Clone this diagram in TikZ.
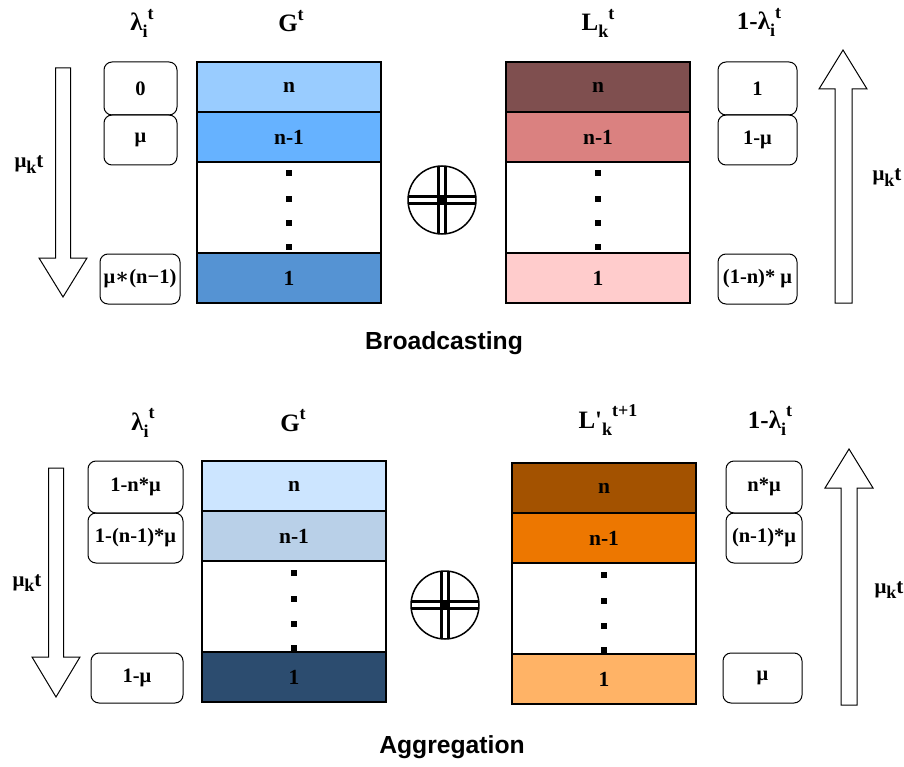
\documentclass[tikz,border=0pt]{standalone}
\usepackage{fontspec}
\setmainfont{Liberation Serif}
\newfontfamily\headfont{Liberation Sans}
\newfontfamily\symfont{DejaVu Serif}
\usepackage{tikz}
\usetikzlibrary{positioning}
\definecolor{gsky}{HTML}{99CCFF}
\definecolor{gazure}{HTML}{66B2FF}
\definecolor{gcobalt}{HTML}{5593D3}
\definecolor{gice}{HTML}{CCE5FF}
\definecolor{gsteel}{HTML}{B9D0E8}
\definecolor{gnavy}{HTML}{2C4C6F}
\definecolor{lmaroon}{HTML}{7F4F4F}
\definecolor{lrose}{HTML}{DA8180}
\definecolor{lblush}{HTML}{FFCCCC}
\definecolor{lrust}{HTML}{A35200}
\definecolor{lamber}{HTML}{ED7700}
\definecolor{lpeach}{HTML}{FFB366}
\newcommand{\sps}[1]{\raisebox{0.45em}{\fontsize{18}{18}\selectfont #1}}
\newcommand{\sbs}[1]{\raisebox{-0.28em}{\fontsize{18}{18}\selectfont #1}}
\begin{document}
\begin{tikzpicture}[
  x=1pt, y=-1pt,
  cell/.style={draw=black, line width=1.2pt, minimum width=184pt,
               minimum height=50pt, inner sep=0pt, outer sep=0pt,
               font=\fontsize{21.5}{25}\selectfont\bfseries},
  val/.style={draw=black, line width=1pt, rounded corners=8pt,
              minimum height=50pt, inner sep=0pt, outer sep=0pt,
              font=\fontsize{20.5}{24}\selectfont\bfseries},
  lbl/.style={font=\fontsize{25}{29}\selectfont\bfseries, inner sep=0pt,
              anchor=base},
  rate/.style={font=\fontsize{21}{25}\selectfont\bfseries, inner sep=0pt,
               anchor=base},
  ttl/.style={font=\headfont\fontsize{24.7}{29}\selectfont\bfseries,
              inner sep=0pt, anchor=base},
  blk/.style={draw=black, line width=1pt, fill=white},
  xor/.style={circle, draw=black, line width=1.5pt, minimum size=68pt,
              inner sep=0pt, outer sep=0pt},
  bar/.style={line width=2.7pt}]
  \useasboundingbox (0,0) rectangle (904,767);
  % broadcasting
  \node[lbl] (tlam) at (142,31) {λ\sbs{i}\sps{t}};
  \node[lbl] (tgl) at (291,32) {G\sps{t}};
  \node[lbl] (tll) at (598,31) {L\sbs{k}\sps{t}};
  \node[lbl] (tnlam) at (759,30) {1-λ\sbs{i}\sps{t}};
  \node[rate] (tmul) at (29,168) {μ\sbs{k}t};
  \node[rate] (tmur) at (887,181) {μ\sbs{k}t};
  \draw[blk] (55.5,68) -- (70.5,68) -- (70.5,258) -- (87,258) -- (63,297)
    -- (39,258) -- (55.5,258) -- cycle;
  \draw[blk] (835,303) -- (852,303) -- (852,89) -- (867,89) -- (843,50)
    -- (819,89) -- (835,89) -- cycle;
  \node[val, minimum width=73pt, minimum height=53pt] (tv0) at (140.5,88.5) {0};
  \node[val, minimum width=73pt, below=0pt of tv0] (tv1) {μ};
  \node[val, minimum width=80pt] (tv2) at (140,279) {μ{\symfont∗}(n−1)};
  \node[val, minimum width=79pt, minimum height=53pt] (tw0) at (757.5,88.5) {1};
  \node[val, minimum width=79pt, below=0pt of tw0] (tw1) {1-μ};
  \node[val, minimum width=79pt] (tw2) at (757.5,279) {(1-n)* μ};
  \node[cell, fill=gsky, anchor=north] (tg0) at (289,62) {n};
  \node[cell, fill=gazure, below=0pt of tg0] (tg1) {n-1};
  \node[cell, fill=white, minimum height=91pt, below=0pt of tg1] (tg2) {};
  \node[cell, fill=gcobalt, below=0pt of tg2] (tg3) {1};
  \node[cell, fill=lmaroon, anchor=north] (tl0) at (598,62) {n};
  \node[cell, fill=lrose, below=0pt of tl0] (tl1) {n-1};
  \node[cell, fill=white, minimum height=91pt, below=0pt of tl1] (tl2) {};
  \node[cell, fill=lblush, below=0pt of tl2] (tl3) {1};
  \foreach \d in {11,37,61,85} {
    \fill ([yshift=-\d pt]tg2.north) +(-3,-3) rectangle +(3,3);
    \fill ([yshift=-\d pt]tl2.north) +(-3,-3) rectangle +(3,3);
  }
  \node[xor] (txo) at (442,200) {};
  \draw[bar] ([xshift=-3.3pt]txo.north) -- ([xshift=-3.3pt]txo.south);
  \draw[bar] ([xshift=3.3pt]txo.north) -- ([xshift=3.3pt]txo.south);
  \draw[bar] ([yshift=-3.3pt]txo.west) -- ([yshift=-3.3pt]txo.east);
  \draw[bar] ([yshift=3.3pt]txo.west) -- ([yshift=3.3pt]txo.east);
  \fill (txo.center) +(-2.2,-2.2) rectangle +(2.2,2.2);
  \node[ttl] (tbc) at (444,349) {Broadcasting};
  % aggregation
  \node[lbl] (blam) at (143,430) {λ\sbs{i}\sps{t}};
  \node[lbl] (bgl) at (293,431) {G\sps{t}};
  \node[lbl] (bll) at (608,428) {L\textquotesingle\sbs{k}\sps{t+1}};
  \node[lbl] (bnlam) at (770,428) {1-λ\sbs{i}\sps{t}};
  \node[rate] (bmul) at (27,586) {μ\sbs{k}t};
  \node[rate] (bmur) at (889,593) {μ\sbs{k}t};
  \draw[blk] (48.5,468) -- (63.5,468) -- (63.5,657) -- (80,657) -- (56,697)
    -- (32,657) -- (48.5,657) -- cycle;
  \draw[blk] (841,705) -- (857,705) -- (857,488) -- (873,488) -- (849,449)
    -- (825,488) -- (841,488) -- cycle;
  \node[val, minimum width=95pt, minimum height=52pt] (bv0) at (135.5,487) {1-n*μ};
  \node[val, minimum width=95pt, below=0pt of bv0] (bv1) {1-(n-1)*μ};
  \node[val, minimum width=92pt] (bv2) at (137,678) {1-μ};
  \node[val, minimum width=76pt, minimum height=52pt] (bw0) at (764,487) {n*μ};
  \node[val, minimum width=76pt, below=0pt of bw0] (bw1) {(n-1)*μ};
  \node[val, minimum width=79pt] (bw2) at (762.5,678) {μ};
  \node[cell, fill=gice, anchor=north] (bg0) at (294,461) {n};
  \node[cell, fill=gsteel, below=0pt of bg0] (bg1) {n-1};
  \node[cell, fill=white, minimum height=91pt, below=0pt of bg1] (bg2) {};
  \node[cell, fill=gnavy, below=0pt of bg2] (bg3) {1};
  \node[cell, fill=lrust, anchor=north] (bl0) at (604,463) {n};
  \node[cell, fill=lamber, below=0pt of bl0] (bl1) {n-1};
  \node[cell, fill=white, minimum height=91pt, below=0pt of bl1] (bl2) {};
  \node[cell, fill=lpeach, below=0pt of bl2] (bl3) {1};
  \foreach \d in {12,38,63,87} {
    \fill ([yshift=-\d pt]bg2.north) +(-3,-3) rectangle +(3,3);
    \fill ([yshift=-\d pt]bl2.north) +(-3,-3) rectangle +(3,3);
  }
  \node[xor] (bxo) at (445,605) {};
  \draw[bar] ([xshift=-3.3pt]bxo.north) -- ([xshift=-3.3pt]bxo.south);
  \draw[bar] ([xshift=3.3pt]bxo.north) -- ([xshift=3.3pt]bxo.south);
  \draw[bar] ([yshift=-3.3pt]bxo.west) -- ([yshift=-3.3pt]bxo.east);
  \draw[bar] ([yshift=3.3pt]bxo.west) -- ([yshift=3.3pt]bxo.east);
  \fill (bxo.center) +(-2.2,-2.2) rectangle +(2.2,2.2);
  \node[ttl] (bag) at (452,753) {Aggregation};
\end{tikzpicture}
\end{document}
